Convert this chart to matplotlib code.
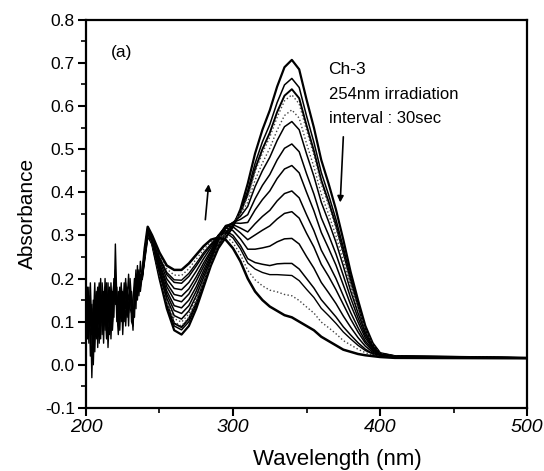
"""
UV-vis spectra of Ch-3 under 254 nm irradiation (30 s interval)
"""
import numpy as np
import matplotlib.pyplot as plt
from matplotlib.ticker import MultipleLocator

plt.rcParams['font.family'] = ['Liberation Sans', 'DejaVu Sans']

# noisy short-wavelength part, 1 nm steps 200..238
noise_wl = list(range(200, 239))
noise_1 = [0.12, 0.17, 0.08, 0.15, -0.03, 0.10, 0.19, 0.06, 0.16, 0.11, 0.20, 0.07, 0.15, 0.12, 0.19,
           0.09, 0.16, 0.13, 0.17, 0.11, 0.28, 0.15, 0.12, 0.18, 0.10, 0.17, 0.14, 0.20, 0.12, 0.16,
           0.18, 0.10, 0.09, 0.16, 0.22, 0.15, 0.21, 0.18, 0.20]
noise_2 = [0.15, 0.09, 0.18, 0.02, 0.13, 0.06, 0.14, 0.17, 0.04, 0.18, 0.09, 0.16, 0.05, 0.18, 0.11,
           0.15, 0.07, 0.19, 0.12, 0.16, 0.22, 0.10, 0.17, 0.08, 0.16, 0.12, 0.19, 0.09, 0.15, 0.21,
           0.13, 0.12, 0.15, 0.20, 0.13, 0.23, 0.16, 0.21, 0.20]
noise_3 = [0.10, 0.14, 0.05, 0.19, 0.08, 0.00, 0.12, 0.16, 0.10, 0.05, 0.17, 0.13, 0.09, 0.20, 0.08,
           0.14, 0.18, 0.06, 0.15, 0.19, 0.17, 0.13, 0.07, 0.16, 0.14, 0.11, 0.16, 0.13, 0.18, 0.09,
           0.20, 0.15, 0.11, 0.13, 0.18, 0.21, 0.17, 0.24, 0.20]
noise_4 = [0.13, 0.06, 0.16, 0.11, 0.07, 0.15, 0.03, 0.13, 0.18, 0.12, 0.06, 0.19, 0.14, 0.08, 0.17,
           0.04, 0.12, 0.15, 0.10, 0.20, 0.14, 0.18, 0.09, 0.13, 0.19, 0.07, 0.15, 0.17, 0.11, 0.14,
           0.17, 0.13, 0.08, 0.18, 0.15, 0.19, 0.22, 0.17, 0.20]
noise_5 = [0.08, 0.18, 0.12, 0.09, 0.14, 0.04, 0.11, 0.09, 0.14, 0.19, 0.13, 0.10, 0.17, 0.13, 0.06,
           0.19, 0.10, 0.16, 0.08, 0.14, 0.19, 0.16, 0.14, 0.11, 0.18, 0.15, 0.10, 0.19, 0.16, 0.12,
           0.15, 0.17, 0.13, 0.11, 0.21, 0.17, 0.19, 0.20, 0.20]

# smooth part of the spectra
wl = [238, 240, 242, 245, 250, 255, 260, 265, 270, 275, 280, 285, 290, 295, 300, 305, 310, 315, 320,
      325, 330, 335, 340, 345, 350, 355, 360, 365, 370, 375, 380, 385, 390, 395, 400, 410, 500]

t00 = [.20, .25, .30, .28, .20, .13, .08, .07, .09, .13, .18, .23, .27, .295, .32, .36, .42, .49, .545,
       .59, .645, .69, .707, .685, .615, .55, .475, .42, .36, .29, .215, .15, .09, .05, .027, .02, .016]
t01 = [.20, .251, .301, .281, .204, .137, .090, .081, .100, .139, .187, .234, .276, .303, .324, .356, .404,
       .467, .517, .557, .608, .649, .664, .643, .577, .516, .446, .394, .337, .272, .202, .141, .085, .048,
       .026, .02, .016]
t02 = [.20, .252, .302, .282, .207, .141, .096, .087, .107, .144, .191, .237, .279, .306, .326, .353, .395,
       .454, .500, .538, .586, .624, .639, .618, .555, .496, .428, .378, .324, .261, .194, .136, .082, .047,
       .026, .02, .016]
t03 = [.20, .253, .303, .283, .208, .144, .099, .090, .110, .147, .193, .238, .280, .308, .327, .352, .390,
       .447, .491, .528, .574, .612, .626, .605, .544, .486, .419, .370, .317, .255, .190, .133, .081, .046,
       .026, .019, .016]
t04 = [.20, .254, .304, .284, .212, .149, .107, .099, .118, .154, .198, .242, .284, .313, .329, .348, .377,
       .428, .468, .502, .544, .578, .591, .572, .513, .459, .396, .349, .299, .241, .179, .126, .077, .044,
       .025, .019, .016]
t05 = [.20, .255, .305, .285, .214, .154, .114, .106, .125, .160, .203, .244, .287, .316, .330, .344, .367,
       .413, .450, .481, .520, .552, .564, .545, .489, .437, .377, .332, .284, .229, .171, .120, .074, .043,
       .025, .019, .016]
t06 = [.20, .257, .307, .287, .220, .163, .126, .119, .137, .171, .211, .250, .291, .319, .330, .337, .348,
       .385, .416, .441, .475, .502, .512, .494, .443, .396, .341, .301, .257, .207, .155, .109, .068, .040,
       .024, .019, .016]
t07 = [.20, .258, .308, .288, .225, .171, .137, .132, .150, .181, .219, .255, .295, .322, .329, .328, .330,
       .359, .383, .403, .432, .454, .462, .445, .400, .357, .307, .270, .231, .185, .139, .099, .062, .038,
       .023, .018, .016]
t08 = [.20, .260, .310, .290, .231, .181, .151, .146, .164, .194, .228, .261, .298, .323, .325, .317, .308,
       .327, .344, .358, .380, .397, .403, .387, .348, .311, .266, .234, .200, .160, .121, .086, .055, .035,
       .022, .018, .016]
t09 = [.20, .262, .312, .292, .235, .189, .163, .159, .176, .204, .236, .265, .300, .321, .320, .306, .290,
       .301, .312, .322, .338, .351, .355, .340, .305, .273, .233, .205, .174, .140, .106, .076, .050, .032,
       .022, .018, .016]
t10 = [.20, .264, .314, .294, .242, .199, .177, .174, .191, .217, .246, .272, .300, .318, .311, .292, .268,
       .268, .271, .275, .285, .292, .293, .280, .251, .224, .191, .167, .142, .113, .087, .063, .043, .029,
       .021, .017, .015]
t11 = [.20, .266, .316, .296, .247, .209, .191, .189, .205, .229, .255, .277, .300, .311, .300, .277, .246,
       .237, .233, .230, .234, .235, .235, .222, .200, .178, .151, .131, .111, .088, .069, .051, .036, .026,
       .020, .017, .015]
t12 = [.20, .267, .317, .297, .250, .214, .197, .196, .212, .235, .260, .280, .299, .307, .294, .269, .236,
       .222, .214, .209, .209, .208, .207, .195, .175, .156, .131, .114, .096, .076, .060, .045, .033, .025,
       .020, .017, .015]
t13 = [.20, .268, .318, .298, .255, .222, .208, .207, .223, .245, .267, .285, .298, .299, .283, .256, .219,
       .197, .183, .173, .169, .163, .160, .149, .134, .120, .099, .086, .072, .056, .046, .036, .028, .023,
       .019, .016, .015]
t14 = [.20, .27, .32, .30, .26, .23, .22, .22, .235, .255, .275, .29, .295, .29, .27, .24, .20, .17, .15,
       .135, .125, .115, .11, .10, .09, .08, .065, .055, .045, .035, .03, .025, .022, .02, .018, .016, .015]

spectra = [t00, t01, t02, t03, t04, t05, t06, t07, t08, t09, t10, t11, t12, t13, t14]
# line style per spectrum: solid / dotted, first and last drawn heavier
styles = ['-', '-', '-', ':', ':', '-', '-', '-', '-', '-', '-', '-', '-', ':', '-']
widths = [1.6, 1.1, 1.4, 1.0, 1.0, 1.1, 1.1, 1.1, 1.1, 1.1, 1.1, 1.1, 1.0, 1.0, 1.8]

fig = plt.figure(figsize=(5.44, 4.71), dpi=100)
ax = fig.add_axes([0.158, 0.134, 0.811, 0.824])

for n in (noise_1, noise_2, noise_3, noise_4, noise_5):
    ax.plot(noise_wl, n, color='k', lw=1.0)

for y, ls, lw in zip(spectra, styles, widths):
    col = 'k' if ls == '-' else '#444444'
    ax.plot(wl, y, color=col, ls=ls, lw=lw)

ax.set_xlim(200, 500)
ax.set_ylim(-0.1, 0.8)
ax.xaxis.set_major_locator(MultipleLocator(100))
ax.xaxis.set_minor_locator(MultipleLocator(50))
ax.yaxis.set_major_locator(MultipleLocator(0.1))
ax.yaxis.set_minor_locator(MultipleLocator(0.05))
ax.yaxis.set_major_formatter(plt.FormatStrFormatter('%.1f'))
ax.tick_params(which='major', direction='out', length=5.5, width=1.5, labelsize=12.5, pad=2.5)
ax.tick_params(axis='x', which='major', labelsize=14)
ax.tick_params(which='minor', direction='out', length=3.5, width=1.2)
for lab in ax.get_xticklabels():
    lab.set_fontstyle('italic')
for s in ax.spines.values():
    s.set_linewidth(1.6)

ax.set_xlabel('Wavelength (nm)', fontsize=16)
ax.xaxis.set_label_coords(0.57, -0.105)
ax.set_ylabel('Absorbance', fontsize=15)
ax.yaxis.set_label_coords(-0.11, 0.5)

ax.text(217, 0.725, '(a)', fontsize=12.5, va='center')
ax.text(365, 0.684, 'Ch-3', fontsize=12.5, va='center')
ax.text(365, 0.626, '254nm irradiation', fontsize=12, va='center')
ax.text(365, 0.570, 'interval : 30sec', fontsize=12, va='center')

ax.annotate('', xy=(283.6, 0.425), xytext=(281, 0.33),
            arrowprops=dict(arrowstyle='-|>', color='k', lw=1.2, mutation_scale=9))
ax.annotate('', xy=(372.8, 0.37), xytext=(375.1, 0.535),
            arrowprops=dict(arrowstyle='-|>', color='k', lw=1.2, mutation_scale=9))

fig.savefig('out.png', dpi=100)
